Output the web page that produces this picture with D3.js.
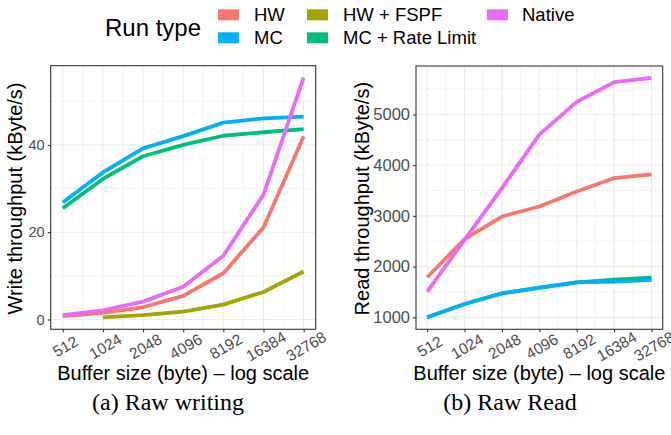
<!DOCTYPE html>
<html><head><meta charset="utf-8">
<script src="https://cdn.jsdelivr.net/npm/d3@7"></script>
<style>body{margin:0;background:#fff}svg{display:block}</style>
</head><body>
<svg id="c" width="671" height="435"></svg>
<script>
const sizes = [512, 1024, 2048, 4096, 8192, 16384, 32768];
const sizeLabels = ["512", "1024", "2048", "4096", "8192", "16384", "32768"];
const runTypes = ["HW", "HW + FSPF", "MC", "MC + Rate Limit", "Native"];
const runColors = ["#F8766D", "#A3A500", "#00B0F6", "#00BF7D", "#E76BF3"];

// Raw writing (kByte/s)
const writeHW = [0.8, 1.5, 2.8, 5.4, 10.6, 21.1, 42.0];
const writeFSPF = [null, 0.5, 1.0, 1.8, 3.4, 6.3, 11.0];
const writeMC = [26.8, 33.7, 39.2, 42.0, 45.1, 46.1, 46.5];
const writeMCRL = [25.5, 32.2, 37.4, 40.0, 42.1, 42.9, 43.6];
const writeNative = [1.0, 2.1, 4.1, 7.5, 14.6, 28.6, 55.4];
const writeTicks = [0, 20, 40];
const writeMinor = [10, 30, 50];

// Raw read (kByte/s)
const readHW = [1790, 2541, 2988, 3186, 3482, 3747, 3818];
const readMC = [1000, 1263, 1474, 1585, 1690, 1704, 1737];
const readMCRL = [1000, 1262, 1472, 1583, 1690, 1743, 1783];
const readNative = [1506, 2530, 3550, 4603, 5249, 5636, 5720];
const readTicks = [1000, 2000, 3000, 4000, 5000];
const readMinor = [1500, 2500, 3500, 4500, 5500];

const svg = d3.select("#c");
const SANS = "'Liberation Sans', Arial, Helvetica, sans-serif";
const SERIF = "'Liberation Serif', 'Times New Roman', serif";

function panel(opt) {
  const {x0, x1, y0, y1, series, ticks, minor, ytitle, yTickSize, ytitleX, caption, captionX} = opt;
  const lx = sizes.map(s => Math.log2(s));
  const lmin = d3.min(lx), lmax = d3.max(lx), le = (lmax - lmin) * 0.05;
  const x = d3.scaleLog().base(2).domain([Math.pow(2, lmin - le), Math.pow(2, lmax + le)]).range([x0, x1]);
  const all = series.flatMap(s => s.values).filter(v => v != null);
  const vmin = d3.min(all), vmax = d3.max(all), ve = (vmax - vmin) * 0.05;
  const y = d3.scaleLinear().domain([vmin - ve, vmax + ve]).range([y1, y0]);
  const g = svg.append("g");
  g.append("rect").attr("x", x0).attr("y", y0).attr("width", x1 - x0).attr("height", y1 - y0).attr("fill", "#fff");
  // minor grid
  const xMinor = [];
  for (let i = 0; i < sizes.length - 1; i++) xMinor.push(Math.sqrt(sizes[i] * sizes[i + 1]));
  g.selectAll(".xm").data(xMinor).join("line")
    .attr("x1", d => x(d)).attr("x2", d => x(d)).attr("y1", y0).attr("y2", y1)
    .attr("stroke", "#EBEBEB").attr("stroke-width", 0.6);
  g.selectAll(".ym").data(minor.filter(v => y(v) > y0 && y(v) < y1)).join("line")
    .attr("x1", x0).attr("x2", x1).attr("y1", d => y(d)).attr("y2", d => y(d))
    .attr("stroke", "#EBEBEB").attr("stroke-width", 0.6);
  // major grid
  g.selectAll(".xg").data(sizes).join("line")
    .attr("x1", d => x(d)).attr("x2", d => x(d)).attr("y1", y0).attr("y2", y1)
    .attr("stroke", "#EBEBEB").attr("stroke-width", 1.1);
  g.selectAll(".yg").data(ticks).join("line")
    .attr("x1", x0).attr("x2", x1).attr("y1", d => y(d)).attr("y2", d => y(d))
    .attr("stroke", "#EBEBEB").attr("stroke-width", 1.1);
  // lines
  const line = d3.line().defined(d => d.v != null).x(d => x(d.s)).y(d => y(d.v));
  series.forEach(s => {
    g.append("path").datum(sizes.map((sz, i) => ({s: sz, v: s.values[i]})))
      .attr("d", line).attr("fill", "none").attr("stroke", s.color)
      .attr("stroke-width", 3.8).attr("stroke-linejoin", "round").attr("stroke-linecap", "butt");
  });
  // border
  g.append("rect").attr("x", x0).attr("y", y0).attr("width", x1 - x0).attr("height", y1 - y0)
    .attr("fill", "none").attr("stroke", "#333333").attr("stroke-width", 1.1);
  // y axis
  const ya = g.append("g").attr("transform", `translate(${x0},0)`)
    .call(d3.axisLeft(y).tickValues(ticks).tickFormat(d3.format("d")).tickSize(3).tickPadding(3));
  ya.select(".domain").remove();
  ya.selectAll("line").attr("stroke", "#333333").attr("stroke-width", 1.1);
  ya.selectAll("text").attr("fill", "#4D4D4D").style("font-family", SANS).style("font-size", yTickSize + "px");
  // x axis
  const xa = g.append("g").attr("transform", `translate(0,${y1})`)
    .call(d3.axisBottom(x).tickValues(sizes).tickFormat((d, i) => sizeLabels[i]).tickSize(3).tickPadding(0));
  xa.select(".domain").remove();
  xa.selectAll("line").attr("stroke", "#333333").attr("stroke-width", 1.1);
  xa.selectAll("text").attr("fill", "#4D4D4D").style("font-family", SANS).style("font-size", "15.5px")
    .attr("y", 0).attr("dy", null).attr("text-anchor", "middle").attr("dominant-baseline", "central")
    .attr("transform", "translate(2,17) rotate(-30)");
  // axis titles
  g.append("text").attr("x", (x0 + x1) / 2).attr("y", 380).attr("text-anchor", "middle")
    .style("font-family", SANS).style("font-size", "20px").attr("fill", "#000")
    .text("Buffer size (byte) \u2013 log scale");
  g.append("text").attr("transform", `translate(${ytitleX},${(y0 + y1) / 2 + 1}) rotate(-90)`)
    .attr("text-anchor", "middle").style("font-family", SANS).style("font-size", "20px").attr("fill", "#000")
    .text(ytitle);
  g.append("text").attr("x", captionX).attr("y", 410).attr("text-anchor", "middle")
    .style("font-family", SERIF).style("font-size", "24px").attr("fill", "#000").text(caption);
}

panel({
  x0: 50.7, x1: 315.7, y0: 65.7, y1: 329.3,
  series: [
    {values: writeHW, color: runColors[0]},
    {values: writeFSPF, color: runColors[1]},
    {values: writeMCRL, color: runColors[3]},
    {values: writeMC, color: runColors[2]},
    {values: writeNative, color: runColors[4]}
  ],
  ticks: writeTicks, minor: writeMinor, yTickSize: 14.5,
  ytitle: "Write throughput (kByte/s)", ytitleX: 22,
  caption: "(a) Raw writing", captionX: 168
});
panel({
  x0: 416, x1: 662.7, y0: 66, y1: 329.3,
  series: [
    {values: readHW, color: runColors[0]},
    {values: readMCRL, color: runColors[3]},
    {values: readMC, color: runColors[2]},
    {values: readNative, color: runColors[4]}
  ],
  ticks: readTicks, minor: readMinor, yTickSize: 16.5,
  ytitle: "Read throughput (kByte/s)", ytitleX: 369,
  caption: "(b) Raw Read", captionX: 510
});

// legend
const lg = svg.append("g");
lg.append("text").attr("x", 105).attr("y", 36).style("font-family", SANS).style("font-size", "24px")
  .attr("fill", "#000").text("Run type");
const legendItems = [
  {name: runTypes[0], color: runColors[0], kx: 218, tx: 254, row: 0},
  {name: runTypes[2], color: runColors[2], kx: 218, tx: 254, row: 1},
  {name: runTypes[1], color: runColors[1], kx: 307, tx: 343, row: 0},
  {name: runTypes[3], color: runColors[3], kx: 307, tx: 343, row: 1},
  {name: runTypes[4], color: runColors[4], kx: 487, tx: 522, row: 0}
];
lg.selectAll("rect.k").data(legendItems).join("rect")
  .attr("x", d => d.kx).attr("y", d => 9.3 + d.row * 23).attr("width", 21).attr("height", 11)
  .attr("fill", d => d.color);
lg.selectAll("text.l").data(legendItems).join("text")
  .attr("x", d => d.tx).attr("y", d => 20.7 + d.row * 23.6)
  .style("font-family", SANS).style("font-size", "18.5px").attr("fill", "#000").text(d => d.name);
</script>
</body></html>
